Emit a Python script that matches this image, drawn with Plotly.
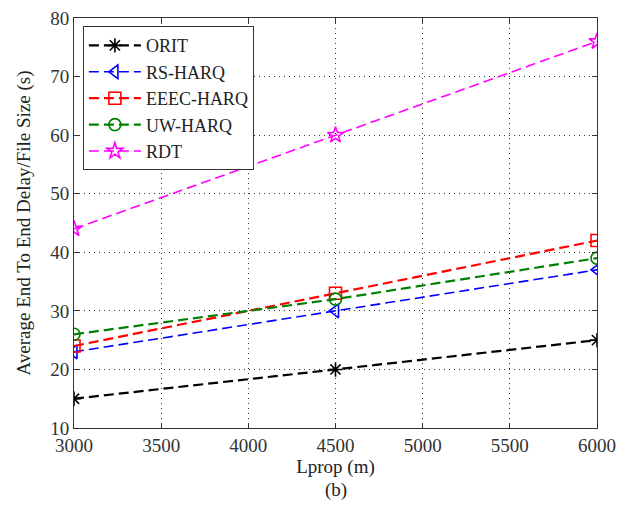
import plotly.graph_objects as go

lprop = [3000, 4500, 6000]
orit = [15, 20, 25]
rs_harq = [23, 30, 37]
eeec_harq = [24, 33, 42]
uw_harq = [26, 32, 39]
rdt = [44, 60, 76]

series = [
    ("ORIT", orit, "black", "asterisk-open", 2.2),
    ("RS-HARQ", rs_harq, "blue", "triangle-left-open", 1.6),
    ("EEEC-HARQ", eeec_harq, "red", "square-open", 2.2),
    ("UW-HARQ", uw_harq, "#008000", "circle-open", 2.2),
    ("RDT", rdt, "magenta", "star-open", 1.6),
]

fig = go.Figure()
for name, ys, color, sym, w in series:
    fig.add_trace(go.Scatter(
        x=lprop, y=ys, name=name, mode="lines+markers",
        line=dict(color=color, width=w, dash="10px,5px"),
        marker=dict(symbol=sym, size=12, color=color, line=dict(color=color, width=1.6)),
    ))

font = "Liberation Serif, Times New Roman, serif"
axis_common = dict(
    showline=True, linecolor="#333", linewidth=1, mirror="ticks",
    ticks="inside", ticklen=5, tickcolor="#333",
    showgrid=True, gridcolor="#333", griddash="1px,4px", gridwidth=1,
    zeroline=False, tickfont=dict(family=font, size=19, color="#333"),
)
fig.update_xaxes(range=[3000, 6000], dtick=500,
                 title=dict(text="Lprop (m)", font=dict(family=font, size=19, color="#222"), standoff=4),
                 **axis_common)
fig.update_yaxes(range=[10, 80], dtick=10,
                 title=dict(text="Average End To End Delay/File Size (s)", font=dict(family=font, size=19, color="#222"), standoff=14),
                 **axis_common)

fig.add_annotation(text="(b)", xref="paper", yref="paper", x=0.5, y=-0.151, showarrow=False,
                   font=dict(family=font, size=19, color="#222"), yanchor="middle")

fig.update_layout(
    width=619, height=512,
    margin=dict(l=74, r=22, t=18, b=84, autoexpand=False),
    plot_bgcolor="white", paper_bgcolor="white",
    font=dict(family=font, size=19, color="#222"),
    legend=dict(x=0.017, y=0.98, xanchor="left", yanchor="top",
                bgcolor="white", bordercolor="#333", borderwidth=1,
                font=dict(family=font, size=18, color="#222"),
                itemwidth=52, tracegroupgap=0,
                entrywidth=172, entrywidthmode="pixels"),
    showlegend=True,
)
fig.write_html("out.html", config={"displayModeBar": False},
               post_script="document.body.style.margin='0px';")
